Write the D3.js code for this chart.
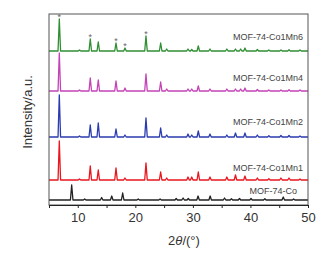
<!DOCTYPE html>
<html>
<head>
<meta charset="utf-8">
<script src="https://cdn.jsdelivr.net/npm/d3@7"></script>
<style>
  body { margin: 0; background: #fff; }
  svg { font-family: "Liberation Sans", Arial, sans-serif; }
</style>
</head>
<body>
<div id="chart"></div>
<script>
// series names, bottom to top
const seriesNames = ["MOF-74-Co", "MOF-74-Co1Mn1", "MOF-74-Co1Mn2", "MOF-74-Co1Mn4", "MOF-74-Co1Mn6"];
const seriesColors = ["#222222", "#e8161e", "#2b3bb0", "#c443b6", "#2f8f33"];
const seriesOffsets = [5, 25, 68, 114, 154];

// peak lists: [2theta, height]
const peaksCo = [[8.94, 15], [11.2, 1], [14.15, 2.5], [15.9, 4], [17.8, 7], [20.5, 1], [24.3, 1], [27.1, 1.5], [28.3, 2], [29.2, 1.5], [30.9, 4], [33.0, 4], [35.5, 2], [36.7, 1.2], [38.1, 1.5], [40.1, 1.5], [42.5, 1.2], [45.7, 3], [47.5, 1]];
const peaksMn1 = [[6.79, 39], [10.3, 1], [12.17, 14], [13.56, 10], [16.64, 12], [18.2, 2], [21.85, 17], [24.4, 8], [25.45, 2], [29.15, 3], [29.8, 3], [30.94, 8], [32.97, 3], [35.9, 3], [37.4, 5], [39.05, 4], [41.2, 2], [43.2, 1.2], [45.3, 2], [46.7, 2], [48.6, 1]];
const peaksMn2 = [[6.79, 42], [10.3, 1], [12.17, 12], [13.56, 14], [16.64, 8], [18.2, 2], [21.85, 19], [24.4, 9], [25.45, 2], [29.15, 3], [29.8, 2], [30.94, 6], [32.97, 3], [35.9, 2], [37.4, 4], [39.05, 4], [41.2, 2], [43.2, 1.2], [45.3, 1.5], [46.7, 1.5], [48.6, 1]];
const peaksMn4 = [[6.79, 38], [10.3, 1], [12.17, 13], [13.56, 11], [16.64, 10], [18.2, 3], [21.85, 17], [24.4, 9], [25.45, 2], [29.15, 2], [29.8, 2], [30.94, 5], [32.97, 2], [35.9, 2], [37.4, 2], [38.3, 2], [39.05, 3], [41.2, 1.5], [43.2, 1], [45.3, 1], [46.7, 1.2], [48.6, 1]];
const peaksMn6 = [[6.79, 32], [10.3, 1], [12.17, 12], [13.56, 9], [16.64, 8], [18.2, 3], [21.85, 15], [24.4, 8], [25.45, 2], [29.15, 2], [29.8, 1.5], [30.94, 5], [32.97, 2], [35.9, 2], [37.4, 2], [38.3, 2], [39.05, 3], [41.2, 1.5], [43.2, 1], [45.3, 1], [46.7, 1.2], [48.6, 1]];
const allPeaks = [peaksCo, peaksMn1, peaksMn2, peaksMn4, peaksMn6];

// peaks marked with * on the top pattern
const starPeaks = [6.79, 12.17, 16.64, 18.2, 21.85];

const xTicks = [5, 10, 15, 20, 25, 30, 35, 40, 45, 50];
const xLabels = [10, 20, 30, 40, 50];

const W = 333, H = 254;
const mLeft = 49, mRight = 308, mTop = 14, mBottom = 205;

const svg = d3.select("#chart").append("svg")
  .attr("width", W)
  .attr("height", H);

const x = d3.scaleLinear().domain([5, 50]).range([mLeft, mRight]);
const y = d3.scaleLinear().domain([0, mBottom - mTop]).range([mBottom, mTop]);

// build each pattern as narrow spikes on a flat baseline
function profile(peaks) {
  const w = 0.22;
  const pts = [[5, 0]];
  peaks.forEach(p => {
    pts.push([p[0] - w, 0], [p[0], p[1]], [p[0] + w, 0]);
  });
  pts.push([50, 0]);
  return pts;
}

const line = d3.line()
  .x(d => x(d[0]))
  .y(d => y(d[1]));

allPeaks.forEach((peaks, i) => {
  const off = seriesOffsets[i];
  svg.append("path")
    .datum(profile(peaks).map(d => [d[0], d[1] + off]))
    .attr("fill", "none")
    .attr("stroke", seriesColors[i])
    .attr("stroke-width", 1.3)
    .attr("stroke-linejoin", "round")
    .attr("d", line);
});

// stars on the top pattern
svg.selectAll(".star")
  .data(starPeaks)
  .enter()
  .append("text")
  .attr("class", "star")
  .attr("x", d => x(d))
  .attr("y", d => {
    const pk = peaksMn6.find(p => p[0] === d);
    return y(pk[1] + seriesOffsets[4]) + 0.5;
  })
  .attr("text-anchor", "middle")
  .style("font-size", "9px")
  .style("fill", "#666")
  .text("*");

// series labels
const labelY = [194, 171, 125, 81, 40];
const labelX = [297, 303, 303, 303, 303];
seriesNames.forEach((name, i) => {
  svg.append("text")
    .attr("x", labelX[i])
    .attr("y", labelY[i])
    .attr("text-anchor", "end")
    .style("font-size", "9px")
    .style("fill", "#444")
    .text(name);
});

// frame
svg.append("rect")
  .attr("x", mLeft)
  .attr("y", mTop)
  .attr("width", mRight - mLeft)
  .attr("height", mBottom - mTop)
  .attr("fill", "none")
  .attr("stroke", "#555")
  .attr("stroke-width", 1);

// x axis
const xAxis = svg.append("g")
  .attr("transform", "translate(0," + mBottom + ")")
  .call(d3.axisBottom(x).tickValues(xTicks).tickSize(3)
    .tickFormat(d => xLabels.includes(d) ? d : ""));
xAxis.select(".domain").attr("stroke", "#222");
xAxis.selectAll(".tick line").attr("stroke", "#222");
xAxis.selectAll(".tick text")
  .attr("y", 8)
  .style("font-size", "13px")
  .style("font-family", "'Liberation Sans', Arial, sans-serif")
  .style("fill", "#333");

// axis titles
const xt = svg.append("text")
  .attr("x", 184)
  .attr("y", 245)
  .attr("text-anchor", "middle")
  .style("font-size", "13px")
  .style("fill", "#333");
xt.append("tspan").text("2");
xt.append("tspan").style("font-style", "italic").text("θ");
xt.append("tspan").text("/(°)");

svg.append("text")
  .attr("transform", "translate(32,112) rotate(-90)")
  .attr("text-anchor", "middle")
  .style("font-size", "13px")
  .style("fill", "#333")
  .text("Intensity/a.u.");
</script>
</body>
</html>
